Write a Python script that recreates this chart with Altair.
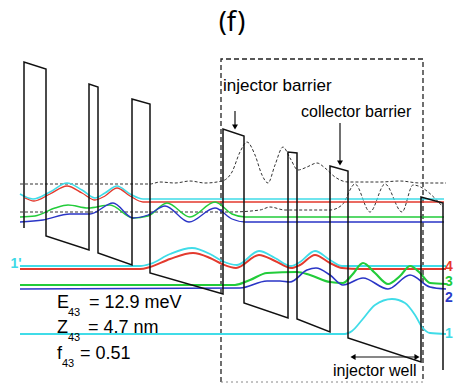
import altair as alt
import pandas as pd

W, H = 458, 392

# ---------------- data (picture coordinates, y downward) ----------------
# conduction-band profile (barriers and sloped wells)
band_x = [24, 24, 46, 46, 89, 89, 98, 98, 132, 132, 150, 150, 223, 223, 244, 244,
          288, 288, 297, 297, 330, 330, 348, 348, 421, 421, 443, 443]
band_y = [228, 62, 69, 236, 250, 84, 87, 253, 265, 99, 104, 273, 294, 129, 136, 303,
          318, 152, 153, 319, 332, 166, 171, 338, 362, 197, 203, 370]

# dashed period box
box_x = [221, 423, 423]
box_y = [382, 382, 382]
box_side_x = [221, 221, 423, 423]
box_side_y = [382, 59, 59, 382]

# wavefunctions, lower levels
w1_x = [20, 345, 352, 362, 375, 392, 405, 415, 422, 430, 446]
w1_y = [334, 334, 331, 320, 305, 299, 303, 315, 327, 333, 334]

w1p_x = [20, 140, 150, 170, 192, 210, 222, 237, 259, 275, 291, 300, 315, 330, 342, 360, 446]
w1p_y = [266, 266, 264, 254, 248, 254, 261, 265, 251, 258, 266, 262, 251, 260, 266, 266, 266]

w4_x = [20, 140, 150, 170, 193, 210, 222, 236, 259, 275, 291, 300, 315, 330, 342, 360, 446]
w4_y = [269, 269, 267, 259, 253, 258, 264, 268, 255, 261, 268, 265, 255, 263, 268, 269, 269]

w3_x = [20, 235, 250, 267, 297, 310, 330, 343, 352, 363, 375, 388, 400, 410, 420, 430, 446]
w3_y = [285, 285, 280, 273, 272, 275, 282, 283, 275, 263, 273, 284, 276, 266, 273, 283, 284]

w2_x = [20, 240, 267, 280, 290, 307, 316, 330, 343, 363, 388, 410, 430, 446]
w2_y = [289, 288, 281, 281, 282, 270, 268, 275, 285, 278, 289, 275, 287, 289]

# wavefunctions, upper levels
uc_x = [20, 33, 50, 67, 82, 95, 105, 117, 130, 143, 160, 444]
uc_y = [194, 199, 192, 183, 190, 198, 193, 186, 194, 199, 199, 199]

ur_x = [25, 34, 50, 67, 82, 95, 105, 117, 130, 143, 160, 444]
ur_y = [198, 201, 194, 186, 193, 200, 196, 188, 196, 202, 202, 202]

ug_x = [20, 35, 55, 68, 88, 110, 133, 148, 167, 190, 215, 232, 245, 444]
ug_y = [217, 216, 208, 205, 208, 205, 218, 216, 203, 217, 202, 214, 217, 217]

ub_x = [20, 43, 70, 90, 113, 133, 148, 165, 189, 215, 232, 245, 444]
ub_y = [222, 220, 214, 214, 203, 218, 215, 206, 222, 208, 219, 222, 222]

# dotted black curves
da_x = [20, 150, 160, 175, 190, 205, 222, 232, 240, 247, 255, 262, 268, 275, 283, 290,
        298, 307, 317, 325, 335, 348, 380, 400, 420, 446]
da_y = [184, 184, 182, 183, 181, 183, 181, 172, 152, 142, 155, 175, 183, 165, 147, 158,
        170, 167, 163, 168, 177, 182, 182, 181, 183, 183]

db_x = [20, 230, 260, 270, 285, 330, 342, 355, 370, 385, 402, 413, 443]
db_y = [212, 212, 210, 207, 210, 210, 205, 184, 212, 184, 212, 185, 207]

# arrows
arr1_x = [235, 235]
arr1_y = [111, 125]
arr2_x = [340, 340]
arr2_y = [123, 161]
arr3_x = [353, 417]
arr3_y = [357, 357]

# texts
title_text = ["(f)"]
title_x = [232]
title_y = [31]

note_text = ["injector barrier", "collector barrier", "injector well"]
note_x = [223, 301, 333]
note_y = [91, 117, 376]
note_size = [17, 16, 16]

eq_main_text = ["E", "Z", "f"]
eq_main_x = [57, 57, 57]
eq_main_y = [308, 333, 359]
eq_sub_text = ["43", "43", "43"]
eq_sub_x = [68, 68, 62]
eq_sub_y = [316, 341, 367]
eq_val_text = ["= 12.9 meV", "= 4.7 nm", "= 0.51"]
eq_val_x = [89, 88, 80]
eq_val_y = [308, 333, 359]

lvl_text = ["4", "3", "2", "1", "1'"]
lvl_x = [449, 449, 449, 449, 16]
lvl_y = [267, 282, 298, 334, 264]
lvl_color = ["#e8372c", "#1fcc3a", "#2b3bc8", "#3fd9e6", "#3fd9e6"]

CYAN = "#40dce8"
RED = "#e33a2e"
GREEN = "#22cc3a"
BLUE = "#2a35c6"

# ---------------- chart ----------------
X = alt.X("x:Q", scale=alt.Scale(domain=[0, W], nice=False, zero=False), axis=None)
Y = alt.Y("y:Q", scale=alt.Scale(domain=[0, H], nice=False, zero=False, reverse=True), axis=None)


def line(xs, ys, color, width, dash=None, interp="linear", opacity=1.0):
    df = pd.DataFrame({"x": xs, "y": ys, "i": list(range(len(xs)))})
    kw = dict(color=color, strokeWidth=width, interpolate=interp, opacity=opacity)
    if dash:
        kw["strokeDash"] = dash
    return alt.Chart(df).mark_line(**kw).encode(x=X, y=Y, order="i:Q")


def text(ts, xs, ys, size, color="black", align="left", font="Liberation Sans", weight="normal"):
    df = pd.DataFrame({"x": xs, "y": ys, "t": ts})
    return alt.Chart(df).mark_text(align=align, baseline="alphabetic", font=font,
                                   fontSize=size, color=color, fontWeight=weight).encode(
        x=X, y=Y, text="t:N")


def head(x, y, shape):
    df = pd.DataFrame({"x": [x], "y": [y]})
    return alt.Chart(df).mark_point(shape=shape, filled=True, size=35, color="black",
                                    opacity=1).encode(x=X, y=Y)


layers = [
    line(box_side_x, box_side_y, "#222", 1.3, dash=[5, 3]),
    line(box_x, box_y, "#888", 1.0, dash=[2, 3]),
    line(da_x, da_y, "#333", 1.0, dash=[3, 2], interp="monotone"),
    line(db_x, db_y, "#333", 1.0, dash=[3, 2], interp="monotone"),
    line(uc_x, uc_y, CYAN, 1.6, interp="monotone"),
    line(ur_x, ur_y, RED, 1.3, interp="monotone"),
    line(ug_x, ug_y, GREEN, 1.5, interp="monotone"),
    line(ub_x, ub_y, BLUE, 1.3, interp="monotone"),
    line(w1_x, w1_y, CYAN, 1.8, interp="monotone"),
    line(w1p_x, w1p_y, CYAN, 1.8, interp="monotone"),
    line(w4_x, w4_y, RED, 2.0, interp="monotone"),
    line(w3_x, w3_y, GREEN, 2.2, interp="monotone"),
    line(w2_x, w2_y, BLUE, 1.7, interp="monotone"),
    line(band_x, band_y, "#111", 1.5),
    line(arr1_x, arr1_y, "#111", 1.2),
    line(arr2_x, arr2_y, "#111", 1.2),
    line(arr3_x, arr3_y, "#111", 1.2),
    head(arr1_x[1], arr1_y[1] + 2, "triangle-down"),
    head(arr2_x[1], arr2_y[1] + 2, "triangle-down"),
    head(arr3_x[0], arr3_y[0], "triangle-left"),
    head(arr3_x[1], arr3_y[1], "triangle-right"),
    text(title_text, title_x, title_y, 27, align="center", font="Noto Sans"),
    text(eq_main_text, eq_main_x, eq_main_y, 18),
    text(eq_sub_text, eq_sub_x, eq_sub_y, 11),
    text(eq_val_text, eq_val_x, eq_val_y, 18),
]
for t, x, y, s in zip(note_text, note_x, note_y, note_size):
    layers.append(text([t], [x], [y], s))
for t, x, y, c in zip(lvl_text, lvl_x, lvl_y, lvl_color):
    df = pd.DataFrame({"x": [x], "y": [y], "t": [t]})
    layers.append(alt.Chart(df).mark_text(align="center", baseline="middle",
                                          font="Liberation Sans", fontSize=14,
                                          fontWeight="bold", color=c).encode(x=X, y=Y, text="t:N"))

chart = alt.layer(*layers).properties(
    width=W, height=H, padding=0, autosize=alt.AutoSizeParams(type="none"),
    background="white"
).configure_view(strokeWidth=0)

chart.save("out.html", embed_options={"renderer": "svg", "actions": False})
